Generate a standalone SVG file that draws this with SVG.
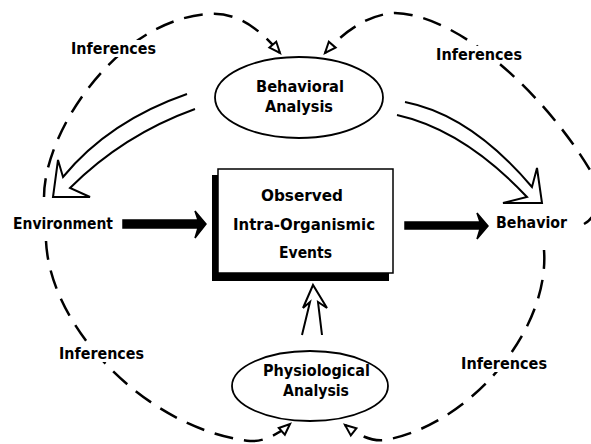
<svg xmlns="http://www.w3.org/2000/svg" width="591" height="444" viewBox="0 0 591 444">
<style>
text{font-family:"DejaVu Sans","Liberation Sans",sans-serif;font-weight:bold;font-size:15.5px;fill:#000}
.dash{fill:none;stroke:#000;stroke-width:2.5;stroke-dasharray:19 11;marker-end:url(#open)}
.hollow{fill:none;stroke:#000;stroke-width:2;stroke-linejoin:miter}
.solid{fill:#000;stroke:#000;stroke-width:1.5;stroke-linejoin:miter}
.node{fill:#fff;stroke:#000;stroke-width:1.8}
.mask{fill:#fff}
</style>
<defs>
<marker id="open" viewBox="0 0 13 10" refX="12" refY="5" markerWidth="13" markerHeight="10" markerUnits="userSpaceOnUse" orient="auto" overflow="visible">
<path d="M1,0.5 L12,5 L1,9.5 Z" fill="#fff" stroke="#000" stroke-width="2"/>
</marker>
</defs>
<rect width="591" height="444" fill="#fff"/>
<g id="connectors">
<path class="dash" d="M44,197 C44,130 120,18 210,14 C240,12 262,32 280,53"/>
<path class="dash" d="M584,224 C600,215 600,195 590,170 C545,95 460,15 395,13 C370,14 345,30 325,53"/>
<path class="dash" d="M46,241 C50,330 150,430 250,441 C265,442 280,433 290,424"/>
<path class="dash" d="M544,250 C550,330 470,425 385,440 C370,442 355,433 345,425"/>
<path class="hollow" d="M187,94 Q109,121 63,177 L58,160 L53,197 L90,197 L70,188 Q123,135 195,109"/>
<path class="hollow" d="M405,102 Q471,115 532,187 L537,168 L542,203 L503,203 L527,197 Q464,130 397,115"/>
<path class="hollow" d="M302,335 L310,302 L303,308 L313,285 L327,308 L318,302 L322,335"/>
<path class="solid" d="M123,220 L198,220 L195,211 L206,224 L195,238 L198,228 L123,228 Z"/>
<path class="solid" d="M405,222 L480,222 L477,213 L488,226 L477,239 L480,229 L405,229 Z"/>
</g>
<g id="inferences-tl"><rect class="mask" x="69" y="40" width="90" height="17"/><text x="71" y="54" textLength="85" lengthAdjust="spacingAndGlyphs">Inferences</text></g>
<g id="inferences-tr"><rect class="mask" x="434" y="46" width="90" height="17"/><text x="436" y="60" textLength="86" lengthAdjust="spacingAndGlyphs">Inferences</text></g>
<g id="inferences-bl"><rect class="mask" x="57" y="345" width="90" height="17"/><text x="59" y="359" textLength="85" lengthAdjust="spacingAndGlyphs">Inferences</text></g>
<g id="inferences-br"><rect class="mask" x="459" y="355" width="90" height="17"/><text x="461" y="369" textLength="86" lengthAdjust="spacingAndGlyphs">Inferences</text></g>
<g id="behavioral-analysis">
<ellipse class="node" cx="299" cy="97.5" rx="84" ry="40.5"/>
<text x="256" y="92" textLength="88" lengthAdjust="spacingAndGlyphs">Behavioral</text>
<text x="265" y="112" textLength="68" lengthAdjust="spacingAndGlyphs">Analysis</text>
</g>
<g id="physiological-analysis">
<ellipse class="node" cx="310" cy="386" rx="78" ry="35"/>
<text x="263" y="376" textLength="107" lengthAdjust="spacingAndGlyphs">Physiological</text>
<text x="283" y="396" textLength="66" lengthAdjust="spacingAndGlyphs">Analysis</text>
</g>
<g id="observed-events">
<rect x="212" y="175" width="177" height="106" fill="#000"/>
<rect x="218" y="169" width="175" height="104" fill="#fff" stroke="#000" stroke-width="1.5"/>
<text x="261" y="201" textLength="82" lengthAdjust="spacingAndGlyphs">Observed</text>
<text x="233" y="230" textLength="142" lengthAdjust="spacingAndGlyphs">Intra-Organismic</text>
<text x="279" y="258" textLength="53" lengthAdjust="spacingAndGlyphs">Events</text>
</g>
<g id="environment"><text x="13" y="229" textLength="100" lengthAdjust="spacingAndGlyphs">Environment</text></g>
<g id="behavior"><text x="496" y="228" textLength="71" lengthAdjust="spacingAndGlyphs">Behavior</text></g>
</svg>
